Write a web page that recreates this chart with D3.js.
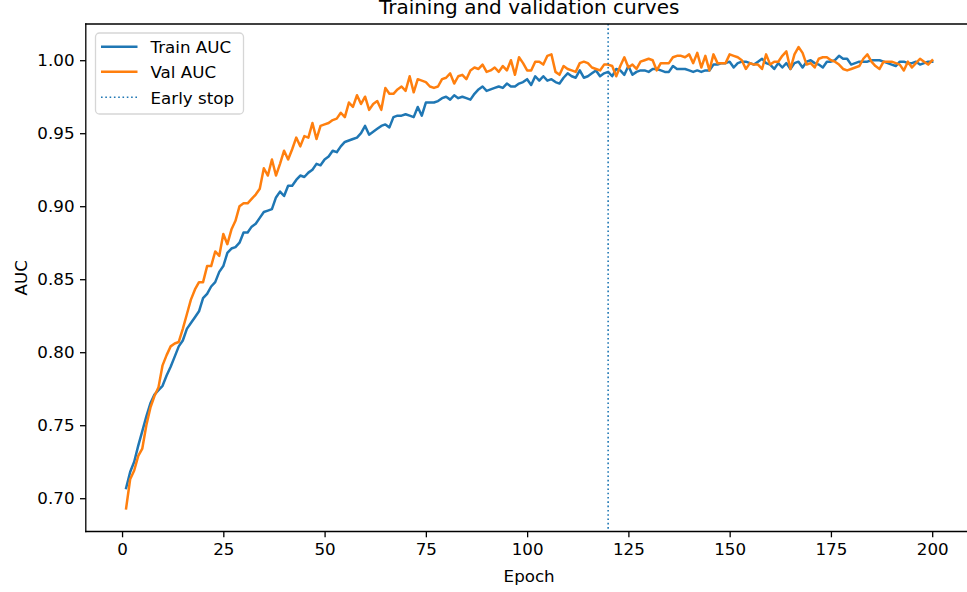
<!DOCTYPE html>
<html>
<head>
<meta charset="utf-8">
<script src="https://cdn.jsdelivr.net/npm/d3@7/dist/d3.min.js"></script>
<style>
  html, body { margin: 0; padding: 0; background: #ffffff; }
  svg { display: block; font-family: "DejaVu Sans", sans-serif; }
</style>
</head>
<body>
<svg id="chart" width="967" height="592"></svg>
<script>
// ---- data ----
const epochs = d3.range(1, 201);
const trainAUC = [
  0.707,0.718,0.725,0.736,0.746,0.756,0.765,0.771,0.774,0.777,
  0.784,0.790,0.797,0.804,0.808,0.816,0.820,0.824,0.828,0.837,
  0.840,0.845,0.848,0.855,0.859,0.868,0.871,0.872,0.875,0.882,
  0.882,0.886,0.888,0.892,0.896,0.897,0.898,0.906,0.910,0.907,
  0.914,0.914,0.918,0.921,0.920,0.923,0.925,0.929,0.928,0.932,
  0.934,0.938,0.937,0.941,0.944,0.945,0.946,0.947,0.950,0.955,
  0.949,0.951,0.953,0.955,0.956,0.954,0.961,0.962,0.962,0.963,
  0.962,0.961,0.968,0.962,0.971,0.971,0.971,0.972,0.974,0.975,
  0.973,0.976,0.974,0.975,0.974,0.973,0.977,0.980,0.982,0.979,
  0.980,0.981,0.982,0.981,0.984,0.982,0.982,0.984,0.985,0.987,
  0.983,0.989,0.986,0.989,0.986,0.987,0.985,0.984,0.988,0.991,
  0.989,0.988,0.993,0.988,0.989,0.991,0.993,0.989,0.991,0.992,
  0.989,0.994,0.993,0.990,0.996,0.990,0.992,0.993,0.993,0.992,
  0.994,0.994,0.993,0.992,0.992,0.996,0.994,0.994,0.994,0.993,
  0.992,0.993,0.992,0.993,0.993,0.997,0.997,0.998,0.998,0.999,
  0.995,0.998,0.999,0.999,0.998,0.997,0.999,1.001,0.998,0.997,
  0.994,0.998,0.995,0.998,0.994,0.998,0.999,0.995,0.999,1.000,
  0.998,0.997,0.995,0.999,0.999,1.000,1.003,1.001,1.001,0.997,
  0.998,0.999,0.999,0.999,1.000,1.000,1.000,0.999,0.998,0.997,
  0.996,0.999,0.999,0.998,0.998,0.999,0.997,0.998,0.999,0.999
];
const valAUC = [
  0.693,0.713,0.719,0.729,0.734,0.750,0.762,0.770,0.776,0.791,
  0.798,0.804,0.806,0.807,0.816,0.826,0.836,0.843,0.848,0.848,
  0.859,0.859,0.869,0.866,0.881,0.874,0.884,0.890,0.900,0.902,
  0.902,0.905,0.908,0.912,0.926,0.921,0.932,0.921,0.929,0.938,
  0.932,0.939,0.947,0.941,0.948,0.947,0.957,0.946,0.955,0.956,
  0.957,0.959,0.960,0.964,0.961,0.971,0.968,0.976,0.970,0.975,
  0.966,0.970,0.972,0.966,0.981,0.977,0.977,0.980,0.982,0.979,
  0.989,0.978,0.987,0.986,0.985,0.982,0.981,0.982,0.987,0.988,
  0.991,0.984,0.989,0.990,0.987,0.993,0.995,0.994,0.997,0.992,
  0.993,0.995,0.992,0.996,0.993,1.000,0.990,1.002,0.998,0.993,
  0.993,0.999,0.999,0.997,1.003,1.004,0.992,0.990,0.996,0.994,
  0.993,0.992,0.998,0.999,0.998,0.995,0.994,0.993,0.997,0.997,
  0.996,0.989,0.996,1.002,0.995,0.997,0.994,0.999,1.000,1.001,
  1.000,0.993,0.998,0.998,0.998,1.002,1.003,1.003,1.002,1.004,
  0.998,1.005,0.995,1.003,0.993,1.004,0.998,0.998,0.998,1.004,
  1.003,1.002,1.000,0.994,0.998,0.997,0.997,0.994,1.004,0.997,
  0.999,0.999,1.003,1.006,0.994,1.004,1.009,1.005,0.997,0.998,
  0.995,1.001,1.002,1.002,1.000,0.999,0.997,0.994,0.993,0.994,
  0.995,0.996,1.001,1.004,0.999,0.996,0.994,0.999,0.999,0.999,
  0.998,0.997,0.993,0.999,0.995,0.998,1.001,0.999,0.997,1.000
];
const earlyStopEpoch = 120;
const xTicks = [0, 25, 50, 75, 100, 125, 150, 175, 200];
const yTicks = [0.70, 0.75, 0.80, 0.85, 0.90, 0.95, 1.00];
const seriesNames = ["Train AUC", "Val AUC", "Early stop"];
const colors = ["#1f77b4", "#ff7f0e"];
const titleText = "Training and validation curves";
const xLabel = "Epoch";
const yLabel = "AUC";

(function () {
  // ---- layout ----
  const svg = d3.select("#chart");
  const pL = 85.8, pR = 972.5, pT = 24, pB = 531.5;
  const fontSize = 16.7;

  // matplotlib-like 5% margins
  const xExt = d3.extent(epochs);
  const xPad = (xExt[1] - xExt[0]) * 0.05;
  const yExt = d3.extent(trainAUC.concat(valAUC));
  const yPad = (yExt[1] - yExt[0]) * 0.05;

  const x = d3.scaleLinear().domain([xExt[0] - xPad, xExt[1] + xPad]).range([pL, pR]);
  const y = d3.scaleLinear().domain([yExt[0] - yPad, yExt[1] + yPad]).range([pB, pT]);

  svg.append("defs").append("clipPath").attr("id", "clip")
    .append("rect").attr("x", pL).attr("y", pT).attr("width", pR - pL).attr("height", pB - pT);

  const plot = svg.append("g").attr("clip-path", "url(#clip)");
  const line = d3.line().x((d, i) => x(epochs[i])).y(d => y(d));

  plot.append("path").datum(trainAUC)
    .attr("fill", "none").attr("stroke", colors[0]).attr("stroke-width", 2.5)
    .attr("stroke-linejoin", "round").attr("stroke-linecap", "square")
    .attr("d", line);

  plot.append("path").datum(valAUC)
    .attr("fill", "none").attr("stroke", colors[1]).attr("stroke-width", 2.5)
    .attr("stroke-linejoin", "round").attr("stroke-linecap", "square")
    .attr("d", line);

  plot.append("line")
    .attr("x1", x(earlyStopEpoch)).attr("x2", x(earlyStopEpoch))
    .attr("y1", pT).attr("y2", pB)
    .attr("stroke", colors[0]).attr("stroke-width", 1.6)
    .attr("stroke-dasharray", "1.6,2.7");

  // axes
  const xAxis = d3.axisBottom(x).tickValues(xTicks).tickSize(5.8).tickSizeOuter(0).tickPadding(5.5)
    .tickFormat(d3.format("d"));
  const yAxis = d3.axisLeft(y).tickValues(yTicks).tickSize(5.8).tickSizeOuter(0).tickPadding(5.5)
    .tickFormat(d3.format(".2f"));

  const gx = svg.append("g").attr("transform", `translate(0,${pB})`).call(xAxis);
  const gy = svg.append("g").attr("transform", `translate(${pL},0)`).call(yAxis);
  [gx, gy].forEach(g => {
    g.select(".domain").remove();
    g.selectAll(".tick line").attr("stroke", "#000").attr("stroke-width", 1.3);
    g.selectAll(".tick text").attr("fill", "#000")
      .style("font-family", "'DejaVu Sans', sans-serif").style("font-size", fontSize + "px");
  });

  // spines
  const spine = (x1, y1, x2, y2) => svg.append("line")
    .attr("x1", x1).attr("y1", y1).attr("x2", x2).attr("y2", y2)
    .attr("stroke", "#000").attr("stroke-width", 1.3).attr("stroke-linecap", "square");
  spine(pL, pT, pL, pB);
  spine(pL, pB, pR, pB);
  spine(pL, pT, pR, pT);
  spine(pR, pT, pR, pB);

  // title & labels
  const cx = (pL + pR) / 2;
  svg.append("text").attr("x", cx).attr("y", 14).attr("text-anchor", "middle")
    .style("font-size", "20px").attr("fill", "#000").text(titleText);
  svg.append("text").attr("x", cx).attr("y", 581.5).attr("text-anchor", "middle")
    .style("font-size", fontSize + "px").attr("fill", "#000").text(xLabel);
  svg.append("text").attr("transform", `translate(27,${(pT + pB) / 2}) rotate(-90)`)
    .attr("text-anchor", "middle")
    .style("font-size", fontSize + "px").attr("fill", "#000").text(yLabel);

  // legend
  const lg = svg.append("g");
  lg.append("rect").attr("x", 95.5).attr("y", 33).attr("width", 148).attr("height", 81)
    .attr("rx", 4).attr("fill", "#fff").attr("fill-opacity", 0.8)
    .attr("stroke", "#d6d6d6").attr("stroke-width", 1.3);
  const legendRows = [
    { name: seriesNames[0], color: colors[0], dash: null, width: 2.5, yy: 46.7 },
    { name: seriesNames[1], color: colors[1], dash: null, width: 2.5, yy: 71.7 },
    { name: seriesNames[2], color: colors[0], dash: "1.6,2.7", width: 1.6, yy: 97.3 }
  ];
  legendRows.forEach(r => {
    lg.append("line").attr("x1", 101).attr("x2", 137.5).attr("y1", r.yy).attr("y2", r.yy)
      .attr("stroke", r.color).attr("stroke-width", r.width)
      .attr("stroke-dasharray", r.dash);
    lg.append("text").attr("x", 150.5).attr("y", r.yy + 6.2)
      .style("font-size", fontSize + "px").attr("fill", "#000").text(r.name);
  });
})();
</script>
</body>
</html>
